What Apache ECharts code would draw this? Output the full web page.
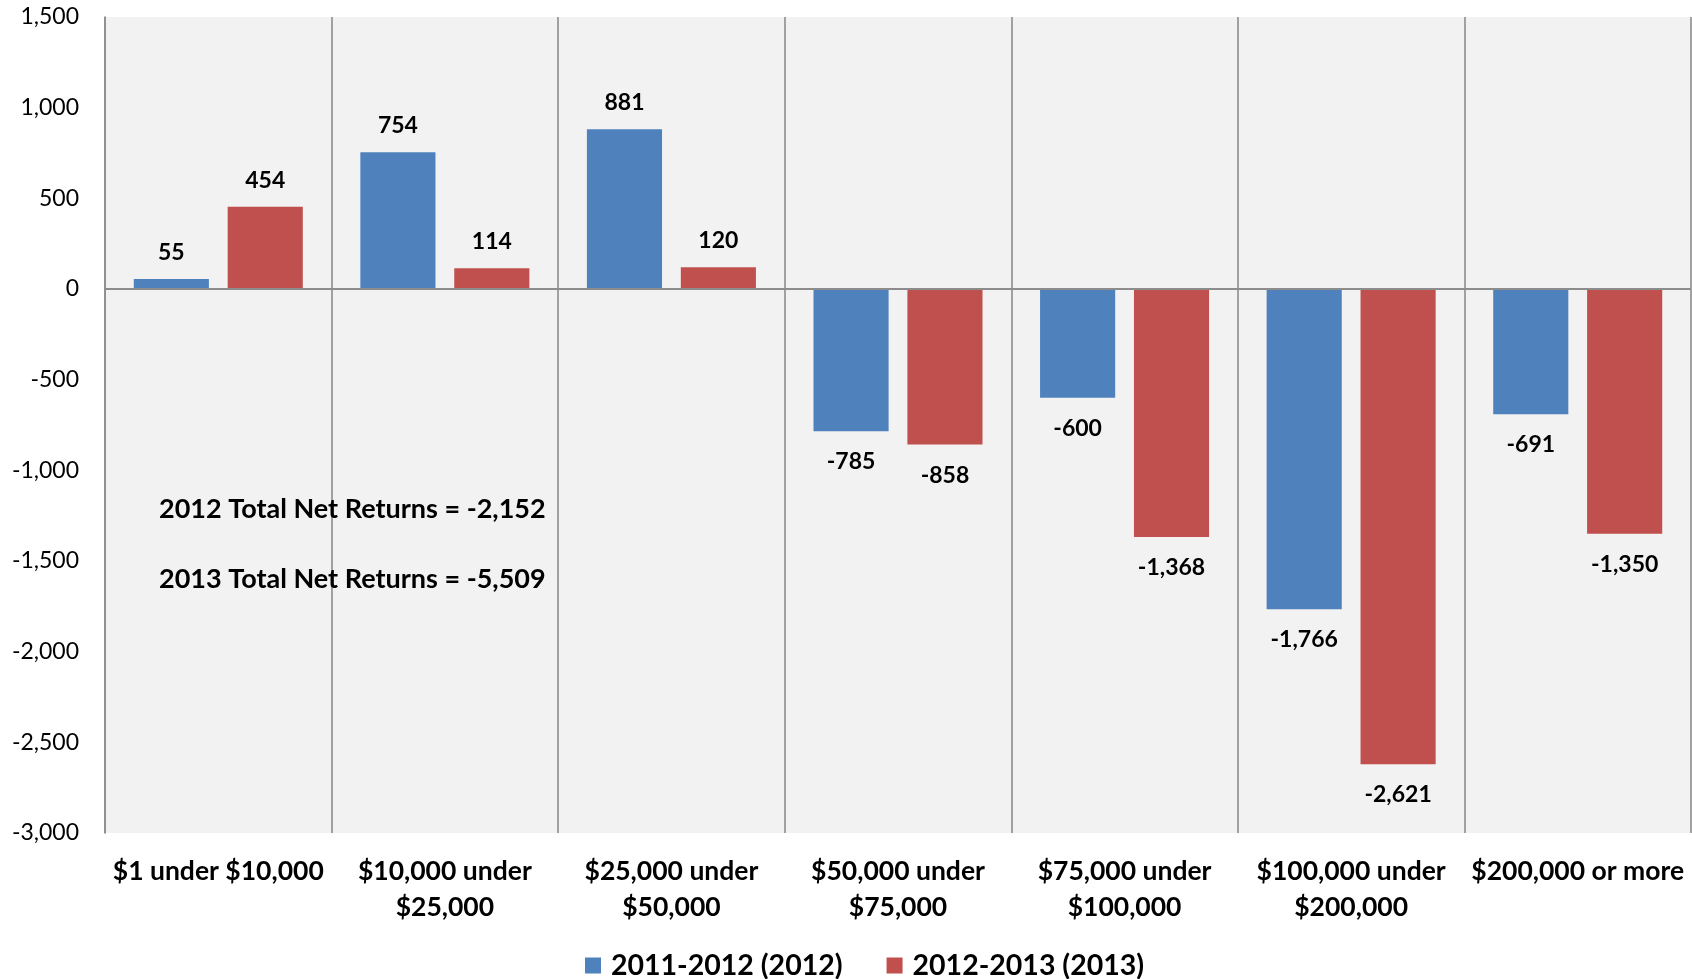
<!DOCTYPE html>
<html>
<head>
<meta charset="utf-8">
<script src="https://cdn.jsdelivr.net/npm/echarts@6/dist/echarts.min.js"></script>
<style>
html,body{margin:0;padding:0;background:#fff;}
#c{width:1692px;height:979px;}
</style>
</head>
<body>
<div id="c"></div>
<script>
var categories = ['$1 under $10,000', '$10,000 under\n$25,000', '$25,000 under\n$50,000', '$50,000 under\n$75,000', '$75,000 under\n$100,000', '$100,000 under\n$200,000', '$200,000 or more'];
var series2012 = [55, 754, 881, -785, -600, -1766, -691];
var series2013 = [454, 114, 120, -858, -1368, -2621, -1350];
var seriesNames = ['2011-2012 (2012)', '2012-2013 (2013)'];
var notes = ['2012 Total Net Returns = -2,152', '2013 Total Net Returns = -5,509'];

var FONT = 'Lato, "Open Sans", sans-serif';
function fmt(v){ return Number(v).toLocaleString('en-US'); }
function toData(arr){
  return arr.map(function(v){
    return { value: v, label: { position: v >= 0 ? 'top' : 'bottom', distance: v >= 0 ? 15 : 19 } };
  });
}
var labelStyle = {
  show: true, fontFamily: FONT, fontWeight: 'bold', fontSize: 23, color: '#000',
  formatter: function(p){ return fmt(p.value); }
};

var chart = echarts.init(document.getElementById('c'), null, {renderer: 'canvas'});
chart.setOption({
  animation: false,
  backgroundColor: '#ffffff',
  grid: { left: 105, right: 1, top: 17, bottom: 146, show: true, backgroundColor: '#F2F2F2', borderWidth: 0 },
  legend: {
    data: seriesNames, left: 580, top: 946, itemWidth: 16, itemHeight: 16, itemGap: 44,
    icon: 'rect',
    textStyle: { fontFamily: FONT, fontWeight: 'bold', fontSize: 28.5, color: '#000', padding: [0, 0, 0, 5] }
  },
  xAxis: {
    type: 'category', data: categories,
    axisLine: { show: false, onZero: false },
    axisTick: { show: false },
    splitLine: { show: true, interval: 0, lineStyle: { color: '#8c8c8c', width: 1.6 } },
    axisLabel: { interval: 0, margin: 20, fontFamily: FONT, fontWeight: 'bold', fontSize: 26.5, color: '#000', lineHeight: 36 }
  },
  yAxis: {
    type: 'value', min: -3000, max: 1500, interval: 500,
    axisLine: { show: true, lineStyle: { color: '#8c8c8c', width: 1.6 } },
    axisTick: { show: false },
    splitLine: { show: false },
    axisLabel: { margin: 26, fontFamily: FONT, fontSize: 23, color: '#000', formatter: function(v){ return fmt(v); } }
  },
  graphic: [
    { type: 'text', x: 159, y: 509, z: 10, style: { text: notes[0], font: 'bold 27px ' + FONT, fill: '#000', verticalAlign: 'middle', textVerticalAlign: 'middle' } },
    { type: 'text', x: 159, y: 579, z: 10, style: { text: notes[1], font: 'bold 27px ' + FONT, fill: '#000', verticalAlign: 'middle', textVerticalAlign: 'middle' } }
  ],
  series: [
    {
      name: seriesNames[0], type: 'bar', data: toData(series2012),
      barGap: '25%', barCategoryGap: '25.4%',
      itemStyle: { color: '#4F81BD' },
      label: labelStyle,
      markLine: {
        silent: true, symbol: 'none', label: { show: false },
        lineStyle: { color: '#8c8c8c', width: 2, type: 'solid' },
        data: [{ yAxis: 0 }]
      }
    },
    {
      name: seriesNames[1], type: 'bar', data: toData(series2013),
      barGap: '25%', barCategoryGap: '25.4%',
      itemStyle: { color: '#C0504D' },
      label: labelStyle
    }
  ]
});
</script>
</body>
</html>
